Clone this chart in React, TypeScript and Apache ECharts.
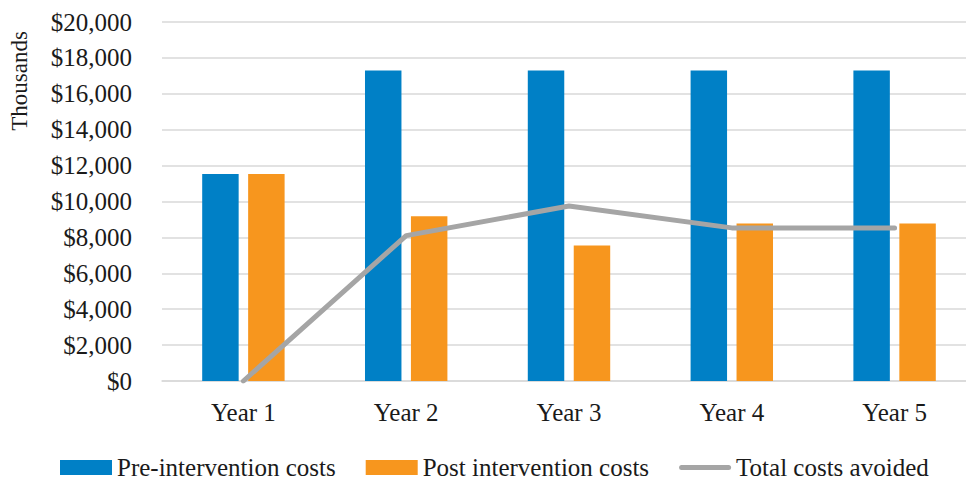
import React, { useEffect, useRef } from "react";
import * as echarts from "echarts";

const categories = ["Year 1", "Year 2", "Year 3", "Year 4", "Year 5"];
const preIntervention = [11530, 17300, 17300, 17300, 17300];
const postIntervention = [11530, 9180, 7550, 8780, 8780];
const totalAvoided = [0, 8100, 9750, 8530, 8530];
const seriesNames = ["Pre-intervention costs", "Post intervention costs", "Total costs avoided"];
const axisTitle = "Thousands";

const FONT = "Liberation Serif, serif";

export default function App() {
  const ref = useRef<HTMLDivElement>(null);
  useEffect(() => {
    if (!ref.current) return;
    const chart = echarts.init(ref.current, null, { renderer: "svg" });
    chart.setOption({
      animation: false,
      textStyle: { fontFamily: FONT },
      grid: { left: 162, right: 0, top: 22, bottom: 100 },
      legend: {
        bottom: -4,
        left: 55,
        itemWidth: 52,
        itemHeight: 15,
        itemGap: 30,
        textStyle: { fontFamily: FONT, fontSize: 25, color: "#1a1a1a" },
        data: [
          { name: seriesNames[0], icon: "rect" },
          { name: seriesNames[1], icon: "rect" },
          { name: seriesNames[2], icon: "path://M2.5,0h47a2.5,2.5 0 0 1 0,5h-47a2.5,2.5 0 0 1 0,-5z" },
        ],
      },
      graphic: [
        {
          type: "text",
          x: 19,
          y: 81,
          rotation: Math.PI / 2,
          style: {
            text: axisTitle,
            fontFamily: FONT,
            fontSize: 23,
            fill: "#1a1a1a",
            align: "center",
            verticalAlign: "middle",
          },
        },
      ],
      xAxis: {
        type: "category",
        data: categories,
        axisTick: { show: false },
        axisLine: { lineStyle: { color: "#d9d9d9", width: 1.5 } },
        axisLabel: { fontFamily: FONT, fontSize: 25, color: "#1a1a1a", margin: 19 },
      },
      yAxis: {
        type: "value",
        min: 0,
        max: 20000,
        interval: 2000,
        axisLine: { show: false },
        axisTick: { show: false },
        splitLine: { lineStyle: { color: "#d9d9d9", width: 1.5 } },
        axisLabel: {
          fontFamily: FONT,
          fontSize: 25,
          color: "#1a1a1a",
          margin: 30,
          formatter: (v: number) => "$" + v.toLocaleString("en-US"),
        },
      },
      series: [
        {
          name: seriesNames[0],
          type: "bar",
          data: preIntervention,
          barWidth: "22.4%",
          barGap: "26%",
          itemStyle: { color: "#0080c6" },
        },
        {
          name: seriesNames[1],
          type: "bar",
          data: postIntervention,
          barWidth: "22.4%",
          barGap: "26%",
          itemStyle: { color: "#f7961e" },
        },
        {
          name: seriesNames[2],
          type: "line",
          data: totalAvoided,
          symbol: "none",
          lineStyle: { color: "#a5a5a5", width: 5, cap: "round" },
          itemStyle: { color: "#a5a5a5" },
        },
      ],
    });
    return () => chart.dispose();
  }, []);
  return (
    <div
      ref={ref}
      style={{ position: "fixed", left: 0, top: 0, width: 976, height: 481, background: "#fff" }}
    />
  );
}
